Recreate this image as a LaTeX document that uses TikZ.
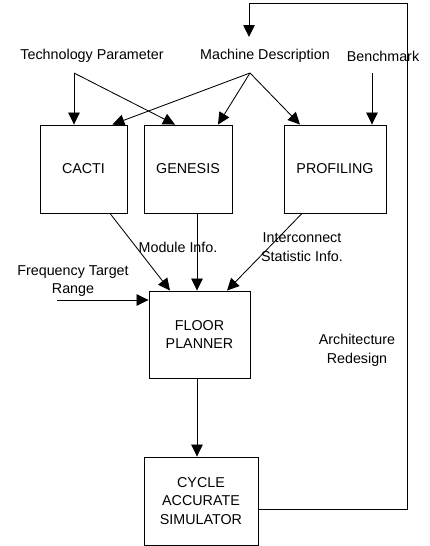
\documentclass[tikz,border=0pt]{standalone}
\usepackage{fontspec}
\setmainfont{Liberation Sans}
\usetikzlibrary{arrows.meta}
\begin{document}
\begin{tikzpicture}[x=1pt,y=-1pt,
  box/.style={draw,line width=0.9pt,inner sep=0pt,align=center,font=\fontsize{14.3}{18.8}\selectfont},
  lbl/.style={inner sep=0pt,align=center,font=\fontsize{14.3}{18.8}\selectfont},
  arr/.style={line width=0.85pt,-{Triangle[length=12pt,width=11.5pt]}},
  ln/.style={line width=0.85pt}]
\useasboundingbox (0,0) rectangle (429,546);
% text sources
\node[lbl] (tp) at (92,56) {Technology Parameter};
\node[lbl] (md) at (265,56) {Machine Description};
\node[lbl] (bm) at (383,56) {Benchmark};
\coordinate (tpo) at (74,73);
\coordinate (mdo) at (250,73);
\coordinate (bmo) at (372,73);
\coordinate (mdin) at (249,37);
\coordinate (fbc) at (407,3);
\coordinate (fqo) at (57,300);
% boxes
\node[box,minimum width=87pt,minimum height=88pt] (cacti) at (83.5,169) {CACTI};
\node[box,minimum width=88pt,minimum height=88pt] (genesis) at (188,169) {GENESIS};
\node[box,minimum width=102pt,minimum height=88pt] (prof) at (335,169) {PROFILING};
\node[box,minimum width=101pt,minimum height=87pt] (floor) at (199.5,334.5) {FLOOR\\PLANNER};
\node[box,minimum width=114pt,minimum height=88pt] (cycle) at (201,501) {CYCLE\\ACCURATE\\SIMULATOR};
% labels
\node[lbl] (mi) at (178,247) {Module Info.};
\node[lbl] (isi) at (302,247) {Interconnect\\Statistic Info.};
\node[lbl] (ftr) at (73,281) {Frequency Target\\Range};
\node[lbl] (ar) at (357,350) {Architecture\\Redesign};
% inputs to top boxes
\draw[arr] (tpo) -- (tpo |- cacti.north);
\draw[arr] (tpo) -- ([xshift=-13pt]genesis.north);
\draw[arr] (mdo) -- ([xshift=-15pt]cacti.north east);
\draw[arr] (mdo) -- ([xshift=30pt]genesis.north);
\draw[arr] (mdo) -- ([xshift=-35pt]prof.north);
\draw[arr] (bmo) -- (bmo |- prof.north);
% to floor planner
\draw[arr] ([xshift=26.5pt]cacti.south) -- ([xshift=-29.5pt]floor.north);
\draw[arr] ([xshift=9pt]genesis.south) -- ([xshift=-2.5pt]floor.north);
\draw[arr] ([xshift=-33pt]prof.south) -- ([xshift=27.5pt]floor.north);
\draw[arr] (fqo) -- (fqo -| floor.west);
% floor to cycle
\draw[arr] ([xshift=-2.5pt]floor.south) -- ([xshift=-4pt]cycle.north);
% feedback
\draw[arr] ([yshift=-8pt]cycle.east) -| (fbc) -| (mdin);
\end{tikzpicture}
\end{document}
